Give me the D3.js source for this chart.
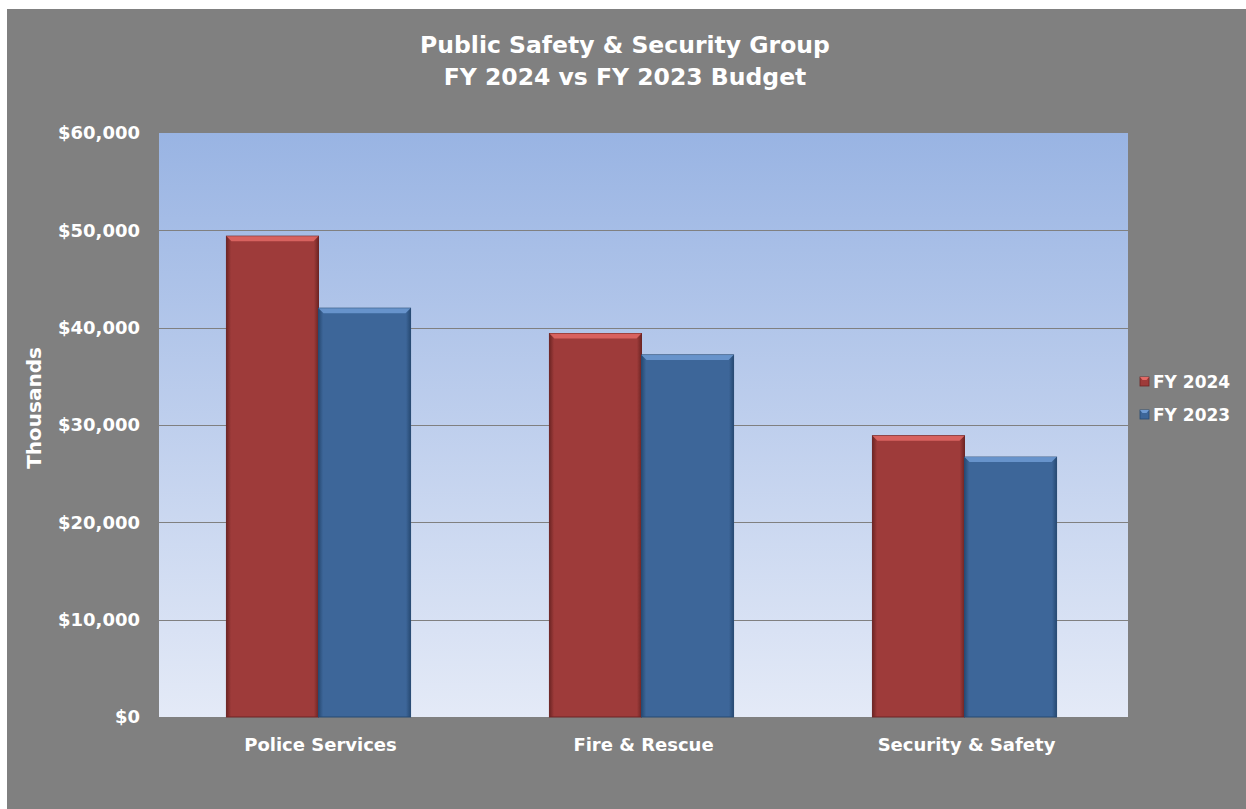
<!DOCTYPE html>
<html>
<head>
<meta charset="utf-8">
<script src="https://cdn.jsdelivr.net/npm/d3@7"></script>
<style>
  html, body { margin: 0; padding: 0; background: #ffffff; }
  svg { display: block; }
  text { font-family: "DejaVu Sans", Verdana, sans-serif; font-weight: bold; fill: #ffffff; }
</style>
</head>
<body>
<svg id="chart" width="1246" height="809"></svg>
<script>
// Budget figures, in thousands of dollars
const categories = ["Police Services", "Fire & Rescue", "Security & Safety"];
const seriesNames = ["FY 2024", "FY 2023"];
const fy2024 = [49400, 39400, 28900];
const fy2023 = [42000, 37200, 26700];
const yTicks = [0, 10000, 20000, 30000, 40000, 50000, 60000];
const titleLines = ["Public Safety & Security Group", "FY 2024 vs FY 2023 Budget"];

const seriesValues = [fy2024, fy2023];
const seriesColors = [
  { base: "#9e3b3a", light: "#e26a66", dark: "#6e2524" },
  { base: "#3d6699", light: "#6f9bd3", dark: "#274a73" }
];

const svg = d3.select("#chart");
const W = 1246, H = 809;
const plot = { left: 159, top: 133, right: 1128, bottom: 717 };

const defs = svg.append("defs");
const bg = defs.append("linearGradient").attr("id", "plotBg")
  .attr("x1", 0).attr("y1", 0).attr("x2", 0).attr("y2", 1);
bg.append("stop").attr("offset", "0%").attr("stop-color", "#99b4e3");
bg.append("stop").attr("offset", "100%").attr("stop-color", "#e4eaf7");

seriesColors.forEach((c, i) => {
  const g = defs.append("linearGradient").attr("id", "barSide" + i)
    .attr("x1", 0).attr("y1", 0).attr("x2", 1).attr("y2", 0);
  g.append("stop").attr("offset", "0%").attr("stop-color", c.dark);
  g.append("stop").attr("offset", "5%").attr("stop-color", c.base);
  g.append("stop").attr("offset", "95%").attr("stop-color", c.base);
  g.append("stop").attr("offset", "100%").attr("stop-color", c.dark);
});

// Outer frame
svg.append("rect").attr("x", 7).attr("y", 9).attr("width", W - 7).attr("height", H - 9)
  .attr("fill", "#808080");

// Title
svg.append("text").attr("x", 625).attr("text-anchor", "middle")
  .style("font-size", "23.5px")
  .selectAll("tspan").data(titleLines).join("tspan")
  .attr("x", 625).attr("y", (d, i) => 53 + i * 32).text(d => d);

const x0 = d3.scaleBand().domain(categories).range([plot.left, plot.right]).paddingInner(0).paddingOuter(0);
const groupWidth = x0.bandwidth() * 0.57;
const x1 = d3.scaleBand().domain(seriesNames).range([0, groupWidth]).padding(0);
const y = d3.scaleLinear().domain([0, 60000]).range([plot.bottom, plot.top]);

// Plot background
svg.append("rect").attr("x", plot.left).attr("y", plot.top)
  .attr("width", plot.right - plot.left).attr("height", plot.bottom - plot.top)
  .attr("fill", "url(#plotBg)");

// Gridlines
svg.append("g").selectAll("line").data(yTicks.filter(t => t > 0 && t < 60000)).join("line")
  .attr("x1", plot.left).attr("x2", plot.right)
  .attr("y1", d => Math.round(y(d)) + 0.5).attr("y2", d => Math.round(y(d)) + 0.5)
  .attr("stroke", "#808080").attr("stroke-width", 1);

// Y axis labels
const yAxis = d3.axisLeft(y).tickValues(yTicks).tickSize(0).tickPadding(19)
  .tickFormat(d => "$" + d3.format(",")(d));
const yg = svg.append("g").attr("transform", `translate(${plot.left},0)`).call(yAxis);
yg.select(".domain").remove();
yg.selectAll("text").attr("fill", "#ffffff").style("font-size", "18px")
  .style("font-family", "'DejaVu Sans', Verdana, sans-serif").style("font-weight", "bold");

// Axis title
svg.append("text").attr("transform", "translate(41,408) rotate(-90)")
  .attr("text-anchor", "middle").style("font-size", "20px").text("Thousands");

// X axis labels
const xAxis = d3.axisBottom(x0).tickSize(0).tickPadding(21);
const xg = svg.append("g").attr("transform", `translate(0,${plot.bottom})`).call(xAxis);
xg.select(".domain").remove();
xg.selectAll("text").attr("fill", "#ffffff").style("font-size", "18px")
  .style("font-family", "'DejaVu Sans', Verdana, sans-serif").style("font-weight", "bold");

// Bars with a bevelled top
const bevel = 5;
const barData = [];
categories.forEach((cat, ci) => {
  seriesNames.forEach((s, si) => {
    barData.push({ cat, s, si, value: seriesValues[si][ci] });
  });
});

const barG = svg.append("g").selectAll("g").data(barData).join("g")
  .attr("transform", d => `translate(${x0(d.cat) + (x0.bandwidth() - groupWidth) / 2 - 2 + x1(d.s)},0)`);

barG.append("rect")
  .attr("x", 0).attr("y", d => y(d.value))
  .attr("width", x1.bandwidth()).attr("height", d => y(0) - y(d.value))
  .attr("fill", d => `url(#barSide${d.si})`)
  .attr("stroke", d => seriesColors[d.si].dark).attr("stroke-width", 1);

barG.append("path")
  .attr("d", d => {
    const w = x1.bandwidth(), t = y(d.value);
    return `M0,${t}L${w},${t}L${w - bevel},${t + bevel}L${bevel},${t + bevel}Z`;
  })
  .attr("fill", d => seriesColors[d.si].light).attr("opacity", 0.85);

// Legend
const legend = svg.append("g").selectAll("g").data(seriesNames).join("g")
  .attr("transform", (d, i) => `translate(1140,${377 + i * 33})`);
legend.append("rect").attr("width", 9).attr("height", 9)
  .attr("fill", (d, i) => seriesColors[i].base)
  .attr("stroke", (d, i) => seriesColors[i].dark).attr("stroke-width", 0.8);
legend.append("path").attr("d", "M0,0L9,0L6.5,3L2.5,3Z")
  .attr("fill", (d, i) => seriesColors[i].light);
legend.append("text").attr("x", 13).attr("y", 11)
  .style("font-size", "17px").text(d => d);
</script>
</body>
</html>
